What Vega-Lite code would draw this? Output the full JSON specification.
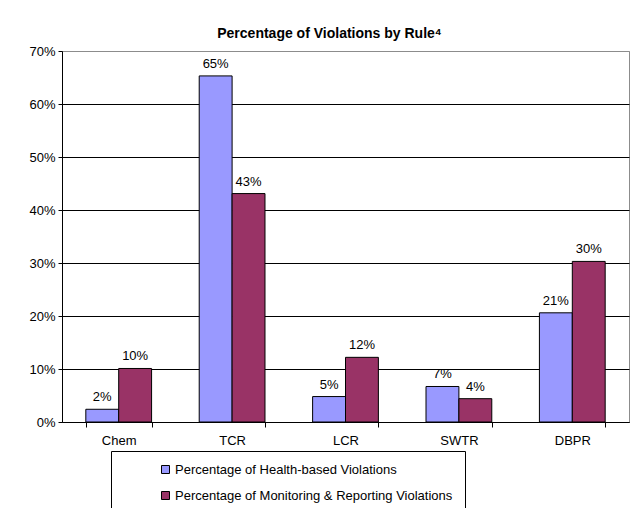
{
  "$schema": "https://vega.github.io/schema/vega-lite/v6.json",
  "width": 567,
  "height": 371,
  "autosize": "none",
  "padding": {"left": 62, "top": 51, "right": 7, "bottom": 86},
  "background": "white",
  "config": {
    "font": "Liberation Sans",
    "view": {"stroke": "#8c8c8c", "strokeWidth": 1}
  },
  "title": {
    "text": "Percentage of Violations by Rule⁴",
    "font": "Liberation Sans",
    "fontSize": 14,
    "fontWeight": "bold",
    "color": "black",
    "anchor": "middle",
    "dx": -16,
    "offset": 4
  },
  "data": {
    "values": [
      {"rule": "Chem", "series": "Percentage of Health-based Violations", "value": 0.024},
      {"rule": "Chem", "series": "Percentage of Monitoring & Reporting Violations", "value": 0.101},
      {"rule": "TCR", "series": "Percentage of Health-based Violations", "value": 0.653},
      {"rule": "TCR", "series": "Percentage of Monitoring & Reporting Violations", "value": 0.431},
      {"rule": "LCR", "series": "Percentage of Health-based Violations", "value": 0.048},
      {"rule": "LCR", "series": "Percentage of Monitoring & Reporting Violations", "value": 0.122},
      {"rule": "SWTR", "series": "Percentage of Health-based Violations", "value": 0.067},
      {"rule": "SWTR", "series": "Percentage of Monitoring & Reporting Violations", "value": 0.044},
      {"rule": "DBPR", "series": "Percentage of Health-based Violations", "value": 0.206},
      {"rule": "DBPR", "series": "Percentage of Monitoring & Reporting Violations", "value": 0.303}
    ]
  },
  "encoding": {
    "x": {
      "field": "rule",
      "type": "nominal",
      "sort": ["Chem", "TCR", "LCR", "SWTR", "DBPR"],
      "scale": {"paddingInner": 0.42, "paddingOuter": 0.21},
      "axis": {
        "title": null,
        "labelAngle": 0,
        "labelFontSize": 13,
        "labelColor": "black",
        "labelPadding": 7,
        "tickBand": "extent",
        "tickSize": 5,
        "tickColor": "black",
        "domainColor": "black",
        "grid": false
      }
    },
    "xOffset": {
      "field": "series",
      "type": "nominal",
      "sort": ["Percentage of Health-based Violations", "Percentage of Monitoring & Reporting Violations"]
    },
    "y": {
      "field": "value",
      "type": "quantitative",
      "scale": {"domain": [0, 0.7], "nice": false},
      "axis": {
        "title": null,
        "values": [0, 0.1, 0.2, 0.3, 0.4, 0.5, 0.6, 0.7],
        "format": ".0%",
        "labelFontSize": 13,
        "labelColor": "black",
        "labelPadding": 3,
        "tickSize": 4,
        "tickColor": "black",
        "domainColor": "black",
        "grid": true,
        "gridColor": {"condition": {"test": "datum.value >= 0.69", "value": "#8c8c8c"}, "value": "black"},
        "gridOpacity": 1
      }
    }
  },
  "layer": [
    {
      "mark": {"type": "bar", "stroke": "black", "strokeWidth": 1},
      "encoding": {
        "color": {
          "field": "series",
          "type": "nominal",
          "scale": {
            "domain": ["Percentage of Health-based Violations", "Percentage of Monitoring & Reporting Violations"],
            "range": ["#9999FF", "#993366"]
          },
          "legend": {
            "title": null,
            "orient": "none",
            "legendX": 49,
            "legendY": 400,
            "direction": "vertical",
            "padding": 12,
            "strokeColor": "black",
            "fillColor": "white",
            "symbolType": "square",
            "symbolSize": 64,
            "symbolStrokeColor": "black",
            "symbolStrokeWidth": 1,
            "symbolOffset": 36,
            "labelFontSize": 13,
            "labelColor": "black",
            "labelLimit": 600,
            "labelOffset": 3,
            "labelExpr": "datum.label + '\u00a0\u00a0\u00a0\u00a0\u00a0\u00a0\u00a0\u00a0\u00a0\u00a0\u00a0\u00a0\u00a0\u00a0\u00a0\u00a0\u00a0'",
            "rowPadding": 12
          }
        }
      }
    },
    {
      "mark": {"type": "text", "baseline": "bottom", "dy": -5, "fontSize": 13, "color": "black"},
      "encoding": {
        "text": {"field": "value", "type": "quantitative", "format": ".0%"}
      }
    }
  ]
}
